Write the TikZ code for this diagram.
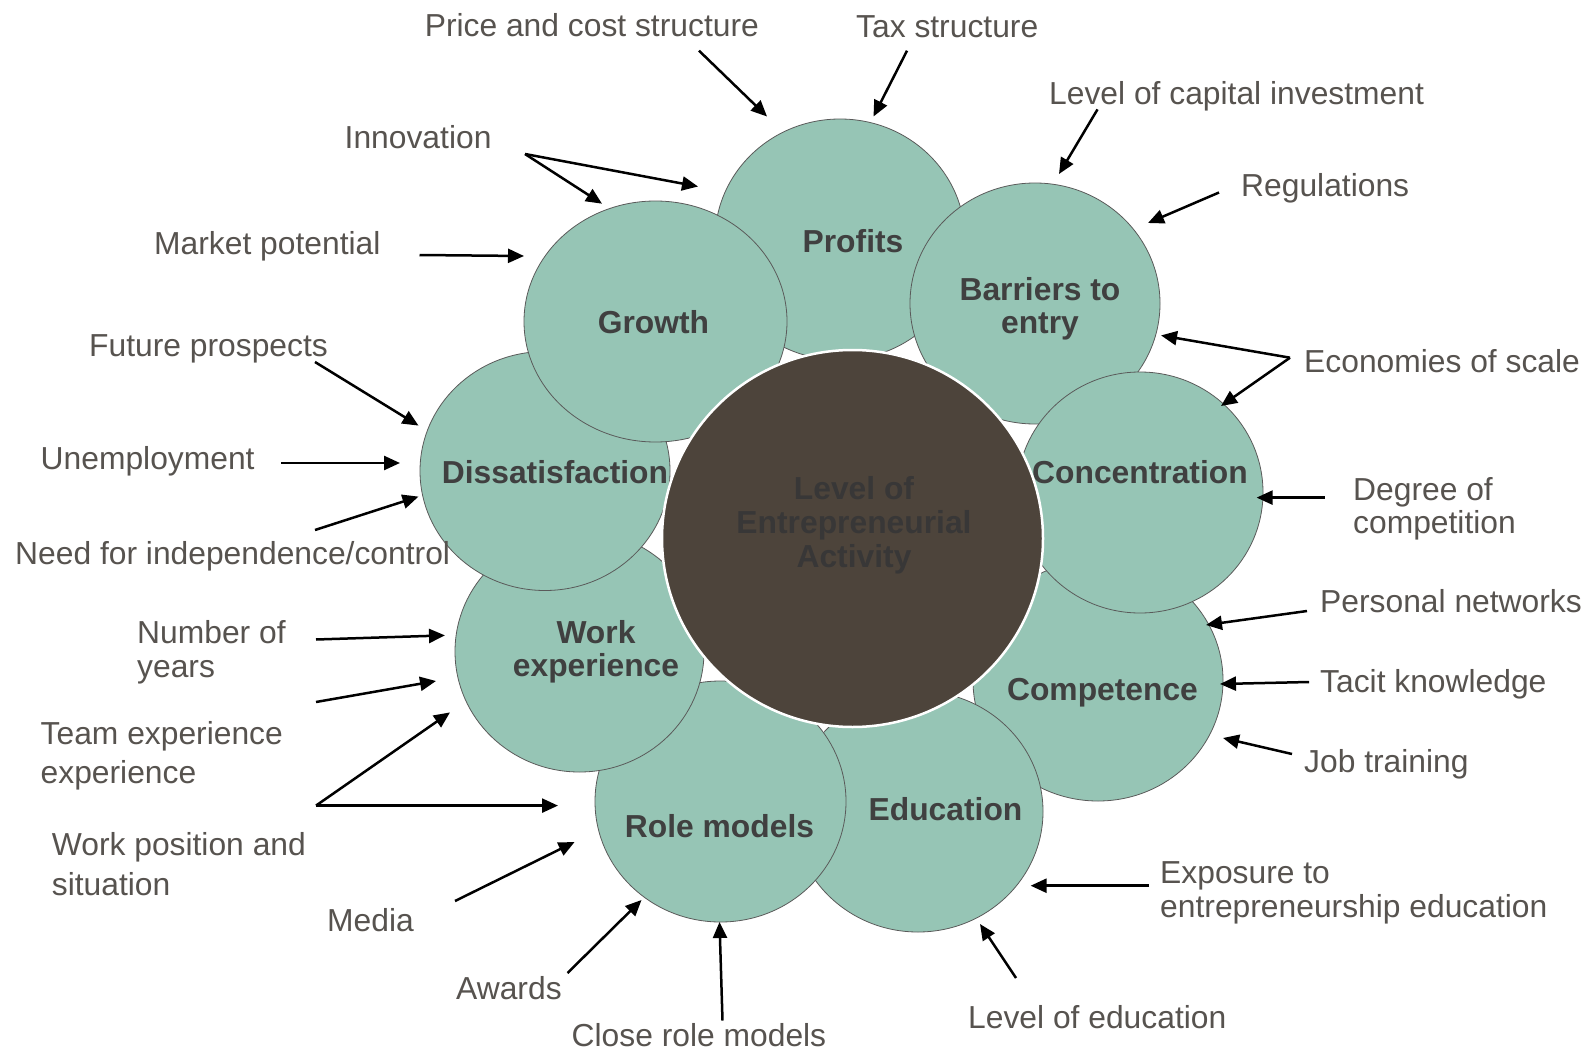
\documentclass[tikz,border=0pt]{standalone}
\usepackage{fontspec}
\setmainfont{Liberation Sans}
\usetikzlibrary{shapes.geometric,arrows.meta}
\definecolor{petalfill}{HTML}{96C5B5}
\definecolor{petaledge}{HTML}{5A5A5A}
\definecolor{corefill}{HTML}{4D443B}
\definecolor{coretext}{HTML}{383737}
\definecolor{petaltext}{HTML}{404040}
\definecolor{labeltext}{HTML}{57534F}
\tikzset{
  petal/.style={ellipse, draw=petaledge, line width=0.8pt, fill=petalfill, inner sep=0pt, minimum width=250pt, minimum height=241pt},
  petallabel/.style={font=\fontsize{31.8}{33}\selectfont\bfseries, text=petaltext, align=center, inner sep=0pt},
  factor/.style={font=\fontsize{31.8}{33}\selectfont, text=labeltext, align=left, anchor=west, inner sep=0pt},
  influence/.style={line width=2.5pt, draw=black, -{Triangle[length=16pt,width=14pt]}},
}
\begin{document}
\begin{tikzpicture}[x=1pt,y=-1pt]
\useasboundingbox (0,0) rectangle (1589,1051);
\fill[white] (0,0) rectangle (1589,1051);

% petals, drawn bottom to top
\node[petal] (prof) at (840,239.5) {};
\node[petallabel] (prof-t) at (853,241) {Profits};
\node[petal] (barr) at (1035,303.5) {};
\node[petallabel] (barr-t) at (1040,308.5) {Barriers to\\entry};
\node[petal] (comp) at (1098,680.5) {};
\node[petallabel] (comp-t) at (1102.5,693) {Competence};
\node[petal, minimum width=246pt] (conc) at (1140,492.5) {};
\node[petallabel] (conc-t) at (1140,472) {Concentration};
\node[petal] (educ) at (918,811.5) {};
\node[petallabel] (educ-t) at (945.5,809) {Education};
\node[petal, minimum width=251pt] (role) at (720.5,801.5) {};
\node[petallabel] (role-t) at (719.5,826) {Role models};
\node[petal, minimum width=249pt] (work) at (579.5,651.5) {};
\node[petallabel] (work-t) at (596,652) {Work\\experience};
\node[petal, minimum height=239pt] (diss) at (545,471) {};
\node[petallabel] (diss-t) at (555,472) {Dissatisfaction};
\node[petal, minimum width=263pt] (grow) at (655.5,321.5) {};
\node[petallabel] (grow-t) at (653.5,322) {Growth};

% core
\node[ellipse, fill=corefill, draw=white, line width=2.5pt, minimum width=381pt, minimum height=377pt, inner sep=0pt] (core) at (852.5,538.5) {};
\node[petallabel, text=coretext, font=\fontsize{31.8}{34}\selectfont\bfseries] (core-t) at (854,525) {Level of\\Entrepreneurial\\Activity};

% factor labels
\node[factor] (price) at (424.6,25.3) {Price and cost structure};
\node[factor] (tax) at (856,26.3) {Tax structure};
\node[factor] (capital) at (1049,96) {Level of capital investment};
\node[factor] (regul) at (1241,188.5) {Regulations};
\node[factor] (innov) at (344.5,137) {Innovation};
\node[factor] (market) at (154,246) {Market potential};
\node[factor] (future) at (89,348.6) {Future prospects};
\node[factor] (unemp) at (40.5,461) {Unemployment};
\node[factor] (need) at (15,556) {Need for independence/control};
\node[factor] (econ) at (1304,361) {Economies of scale};
\node[factor, font=\fontsize{31.8}{32.5}\selectfont] (degree) at (1353,509) {Degree of\\competition};
\node[factor] (personal) at (1320,601) {Personal networks};
\node[factor] (tacit) at (1320,684) {Tacit knowledge};
\node[factor] (job) at (1304,764) {Job training};
\node[factor, font=\fontsize{31.8}{33.5}\selectfont] (expo) at (1160,893) {Exposure to\\entrepreneurship education};
\node[factor] (leveledu) at (968,1017) {Level of education};
\node[factor] (close) at (571.5,1035) {Close role models};
\node[factor] (awards) at (456,988) {Awards};
\node[factor] (media) at (327,920) {Media};
\node[factor, font=\fontsize{31.8}{40}\selectfont] (workpos) at (51.7,864) {Work position and\\situation};
\node[factor, font=\fontsize{31.8}{39}\selectfont] (team) at (40.5,755.5) {Team experience\\experience};
\node[factor, font=\fontsize{31.8}{34}\selectfont] (number) at (137,652) {Number of\\years};

% arrow end points
\coordinate (price-a) at (699,50.7);   \coordinate (price-b) at (767,116.5);
\coordinate (tax-a) at (907,50.7);     \coordinate (tax-b) at (873.5,116.5);
\coordinate (capital-a) at (1097.5,109.4); \coordinate (capital-b) at (1059,174);
\coordinate (regul-a) at (1219,192.5); \coordinate (regul-b) at (1148,223);
\coordinate (innov-a) at (525,154);    \coordinate (innov-b) at (698,186.5); \coordinate (innov-c) at (602,203.7);
\coordinate (market-a) at (419.5,255); \coordinate (market-b) at (524,256);
\coordinate (future-a) at (315,362);   \coordinate (future-b) at (418.5,425.6);
\coordinate (unemp-a) at (281,463);    \coordinate (unemp-b) at (400,463);
\coordinate (need-a) at (315,530);     \coordinate (need-b) at (418.5,496.6);
\coordinate (econ-a) at (1290,357.7);  \coordinate (econ-b) at (1161,335.4); \coordinate (econ-c) at (1221,406);
\coordinate (degree-a) at (1324.5,497.6); \coordinate (degree-b) at (1256.6,497.6);
\coordinate (personal-a) at (1307,611); \coordinate (personal-b) at (1206,625);
\coordinate (tacit-a) at (1309,682);   \coordinate (tacit-b) at (1220,684);
\coordinate (job-a) at (1292,754);     \coordinate (job-b) at (1223,738);
\coordinate (expo-a) at (1149,885.7);  \coordinate (expo-b) at (1030.6,885.7);
\coordinate (leveledu-a) at (1016,978); \coordinate (leveledu-b) at (980,924);
\coordinate (close-a) at (722.5,1020.5); \coordinate (close-b) at (719.5,922);
\coordinate (awards-a) at (567.5,973); \coordinate (awards-b) at (641.5,900);
\coordinate (media-a) at (455,901);    \coordinate (media-b) at (574.6,842);
\coordinate (workpos-a) at (316,805.6); \coordinate (workpos-b) at (558,805.6); \coordinate (workpos-c) at (450,712.4);
\coordinate (team-a) at (316,702);     \coordinate (team-b) at (436,681);
\coordinate (number-a) at (316,639.5); \coordinate (number-b) at (445,635.4);

% arrows
\draw[influence] (price-a) -- (price-b);
\draw[influence] (tax-a) -- (tax-b);
\draw[influence] (capital-a) -- (capital-b);
\draw[influence] (regul-a) -- (regul-b);
\draw[influence] (innov-a) -- (innov-b);
\draw[influence] (innov-a) -- (innov-c);
\draw[influence] (market-a) -- (market-b);
\draw[influence] (future-a) -- (future-b);
\draw[influence] (unemp-a) -- (unemp-b);
\draw[influence] (need-a) -- (need-b);
\draw[influence] (econ-a) -- (econ-b);
\draw[influence] (econ-a) -- (econ-c);
\draw[influence] (degree-a) -- (degree-b);
\draw[influence] (personal-a) -- (personal-b);
\draw[influence] (tacit-a) -- (tacit-b);
\draw[influence] (job-a) -- (job-b);
\draw[influence] (expo-a) -- (expo-b);
\draw[influence] (leveledu-a) -- (leveledu-b);
\draw[influence] (close-a) -- (close-b);
\draw[influence] (awards-a) -- (awards-b);
\draw[influence] (media-a) -- (media-b);
\draw[influence] (workpos-a) -- (workpos-b);
\draw[influence] (workpos-a) -- (workpos-c);
\draw[influence] (team-a) -- (team-b);
\draw[influence] (number-a) -- (number-b);
\end{tikzpicture}
\end{document}
